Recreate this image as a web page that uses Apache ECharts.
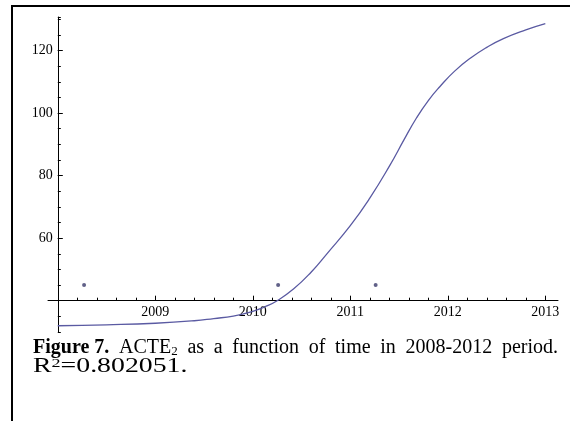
<!DOCTYPE html>
<html>
<head>
<meta charset="utf-8">
<script src="https://cdn.jsdelivr.net/npm/echarts@6/dist/echarts.min.js"></script>
<style>
  html, body { margin: 0; padding: 0; background: #fff; }
  #chart { width: 570px; height: 421px; }
</style>
</head>
<body>
<div id="chart"></div>
<script>
// Fitted ACTE2 curve, sampled along time
const fitYears  = [2008.0, 2008.5, 2009.0, 2009.4, 2009.6, 2009.8, 2010.0, 2010.12, 2010.25, 2010.42, 2010.6, 2010.76, 2011.0, 2011.2, 2011.41, 2011.55, 2011.68, 2011.8, 2011.92, 2012.07, 2012.23, 2012.4, 2012.57, 2012.8, 2013.0];
const fitValues = [32.0, 32.3, 32.8, 33.6, 34.3, 35.1, 36.6, 38.0, 40.0, 43.8, 49.2, 55.0, 64.0, 72.8, 83.5, 91.4, 98.5, 104.0, 108.5, 113.4, 117.5, 121.0, 123.8, 126.6, 128.6];

// Observed points
const obsYears  = [2008.27, 2010.26, 2011.26];
const obsValues = [45, 45, 45];

// Tick labels
const yearTicks  = [2009, 2010, 2011, 2012, 2013];
const valueTicks = [60, 80, 100, 120];

// Minor year ticks every 0.2 year
const minorYearTicks = [];
for (let y = 2008; y < 2013; y++) {
  for (let k = 1; k < 5; k++) minorYearTicks.push(Math.round((y + k * 0.2) * 10) / 10);
}

const fitData = fitYears.map((x, i) => [x, fitValues[i]]);
const obsData = obsYears.map((x, i) => [x, obsValues[i]]);

const labelFont = { fontFamily: 'Liberation Serif', fontSize: 14, color: '#000' };
const X_MIN = 2007.9, X_MAX = 2013.13, Y_MIN = 30, Y_MAX = 130.7;

const chart = echarts.init(document.getElementById('chart'), null, { renderer: 'canvas' });
chart.setOption({
  animation: false,
  backgroundColor: '#fff',
  grid: { left: 48, right: 12, top: 17, bottom: 89, containLabel: false },
  xAxis: [
    {
      type: 'value', min: X_MIN, max: X_MAX, position: 'bottom', offset: -31.3,
      axisLine: { show: true, lineStyle: { color: '#000', width: 1 } },
      axisTick: { show: true, inside: true, length: 3, customValues: minorYearTicks, lineStyle: { color: '#000' } },
      axisLabel: { show: false },
      splitLine: { show: false }
    },
    {
      type: 'value', min: X_MIN, max: X_MAX, position: 'bottom', offset: -31.3,
      axisLine: { show: false },
      axisTick: { show: true, inside: true, length: 5, customValues: yearTicks, lineStyle: { color: '#000' } },
      axisLabel: Object.assign({ show: true, margin: 5, customValues: yearTicks, formatter: v => String(v) }, labelFont),
      splitLine: { show: false }
    }
  ],
  yAxis: [
    {
      type: 'value', min: Y_MIN, max: Y_MAX, interval: 5, position: 'left', offset: -9.8,
      axisLine: { show: true, lineStyle: { color: '#000', width: 1 } },
      axisTick: { show: true, inside: true, length: 3, lineStyle: { color: '#000' } },
      axisLabel: { show: false },
      splitLine: { show: false }
    },
    {
      type: 'value', min: Y_MIN, max: Y_MAX, position: 'left', offset: -9.8,
      axisLine: { show: false },
      axisTick: { show: true, inside: true, length: 5, customValues: valueTicks, lineStyle: { color: '#000' } },
      axisLabel: Object.assign({ show: true, margin: 5, customValues: valueTicks, formatter: v => String(v) }, labelFont),
      splitLine: { show: false }
    }
  ],
  series: [
    {
      type: 'line', data: fitData, xAxisIndex: 0, yAxisIndex: 0,
      smooth: 0.5, showSymbol: false,
      lineStyle: { color: '#5a5aa2', width: 1.3 }, z: 3
    },
    {
      type: 'scatter', data: obsData, xAxisIndex: 0, yAxisIndex: 0,
      symbolSize: 4, itemStyle: { color: '#3a3a6a' }, z: 4
    }
  ],
  graphic: [
    {
      type: 'rect', silent: true,
      shape: { x: 12, y: 6, width: 620, height: 500 },
      style: { fill: 'none', stroke: '#000', lineWidth: 2 }
    },
    {
      type: 'text', x: 33, y: 338,
      style: {
        text: '{b|Figure 7.}{sp| }{r|ACTE}{sub|2}{sp| }{r|as}{sp| }{r|a}{sp| }{r|function}{sp| }{r|of}{sp| }{r|time}{sp| }{r|in}{sp| }{r|2008-2012}{sp| }{r|period.}',
        fill: '#000',
        font: '20px "Liberation Serif"',
        rich: {
          b: { fontFamily: 'Liberation Serif', fontSize: 20, fontWeight: 'bold', lineHeight: 20 },
          r: { fontFamily: 'Liberation Serif', fontSize: 20, lineHeight: 20 },
          sp: { fontFamily: 'Liberation Serif', fontSize: 20, lineHeight: 20, width: 9.7 },
          sub: { fontFamily: 'Liberation Serif', fontSize: 13, lineHeight: 13, verticalAlign: 'bottom' }
        }
      }
    },
    {
      type: 'text', x: 33, y: 357, scaleX: 1.39,
      style: {
        text: '{r|R}{sup|2}{r|=0.802051.}',
        fill: '#000',
        font: '20px "Liberation Serif"',
        rich: {
          r: { fontFamily: 'Liberation Serif', fontSize: 20, lineHeight: 20 },
          sup: { fontFamily: 'Liberation Serif', fontSize: 13, lineHeight: 13, verticalAlign: 'top' }
        }
      }
    }
  ]
});
</script>
</body>
</html>
